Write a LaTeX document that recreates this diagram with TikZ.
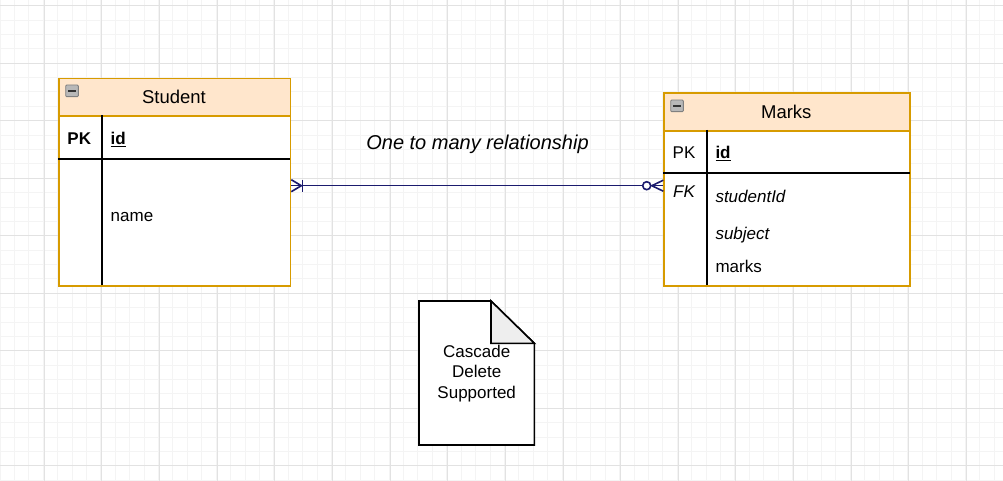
\documentclass[tikz,border=0pt]{standalone}
\usepackage{fontspec}
\setmainfont{Liberation Sans}
\usetikzlibrary{calc}
\definecolor{gridminor}{HTML}{F4F4F4}
\definecolor{gridmajor}{HTML}{E2E2E2}
\definecolor{hdrfill}{HTML}{FFE6CC}
\definecolor{hdrdraw}{HTML}{D79B00}
\definecolor{navy}{HTML}{1B1B6E}
\definecolor{foldfill}{HTML}{EEEEEE}
\begin{document}
\begin{tikzpicture}[x=1pt,y=-1pt,
  hdr/.style={draw=hdrdraw, fill=hdrfill, line width=1.6pt, rectangle, anchor=north west, inner sep=0pt,
     font=\fontsize{18.5}{20}\selectfont, text=black},
  tbody/.style={draw=hdrdraw, fill=white, line width=1.6pt, rectangle, anchor=north west, inner sep=0pt},
  rowtxt/.style={anchor=base west, inner sep=0pt, font=\fontsize{17}{20}\selectfont},
  keytxt/.style={anchor=base, inner sep=0pt, font=\fontsize{17}{20}\selectfont},
  sepline/.style={black, line width=1.8pt},
  rel/.style={navy, line width=1.6pt},
  iconbox/.style={draw=black!50, fill=black!28, rounded corners=1pt, line width=0.9pt}
]
\useasboundingbox (0,0) rectangle (1003,481);
\fill[white] (0,0) rectangle (1003,481);
% grid
\foreach \i in {0,...,69} \draw[gridminor, line width=1pt] ({0.07+14.41*\i},0) -- ++(0,481);
\foreach \j in {0,...,33} \draw[gridminor, line width=1pt] (0,{5.7+14.38*\j}) -- ++(1003,0);
\foreach \i in {0,...,16} \draw[gridmajor, line width=1pt] ({44.3+57.64*\i},0) -- ++(0,481);
\foreach \j in {0,...,8} \draw[gridmajor, line width=1pt] (0,{5.7+57.5*\j}) -- ++(1003,0);

% ---------- Student table ----------
\node[tbody, minimum width=231.4pt, minimum height=169.7pt] (stuB) at (58.3,115.3) {};
\node[hdr, minimum width=231.4pt, minimum height=37.6pt] (stuH) at (58.3,77.7) {};
\node[anchor=base, inner sep=0pt, font=\fontsize{18.5}{20}\selectfont] (stuT) at (174,103.7) {Student};
\draw[iconbox] (65.7,85) rectangle (78.3,96.7);
\draw[black!80, line width=1.8pt] (68.3,90.9) -- (75.7,90.9);
\draw[sepline] (102.3,115.3) -- (102.3,285);
\draw[sepline] (58.3,158.7) -- (289.7,158.7);
\node[keytxt, font=\fontsize{17}{20}\selectfont\bfseries] (stuPK) at (79.3,144.5) {PK};
\node[rowtxt, font=\fontsize{17}{20}\selectfont\bfseries] (stuId) at (110.5,144.5) {\underline{id}};
\node[rowtxt] (stuName) at (110.5,221) {name};

% ---------- Marks table ----------
\node[tbody, minimum width=246pt, minimum height=155pt] (mkB) at (663.3,130) {};
\node[hdr, minimum width=246pt, minimum height=37.7pt] (mkH) at (663.3,92.3) {};
\node[anchor=base, inner sep=0pt, font=\fontsize{18.5}{20}\selectfont] (mkT) at (786.3,118.7) {Marks};
\draw[iconbox] (670.7,100) rectangle (683.3,111.7);
\draw[black!80, line width=1.8pt] (673.3,105.9) -- (680.7,105.9);
\draw[sepline] (707.3,130) -- (707.3,285);
\draw[sepline] (663.3,173) -- (910,173);
\node[keytxt] (mkPK) at (684,158.3) {PK};
\node[rowtxt, font=\fontsize{17}{20}\selectfont\bfseries] (mkId) at (715.3,158.3) {\underline{id}};
\node[keytxt, font=\fontsize{17}{20}\selectfont\itshape] (mkFK) at (684,197.7) {FK};
\node[rowtxt, font=\fontsize{17}{20}\selectfont\itshape] (mkSid) at (715.3,202.7) {studentId};
\node[rowtxt, font=\fontsize{17}{20}\selectfont\itshape] (mkSub) at (715.3,239.3) {subject};
\node[rowtxt] (mkMarks) at (715.3,272.3) {marks};

% ---------- relationship ----------
\draw[rel] (stuB.north east) ++(0,70.4) coordinate (rs) -- (rs -| mkB.west) coordinate (re);
% one-or-many at Student end
\draw[rel] ($(rs)+(0,-6)$) -- ($(rs)+(10,0)$) -- ($(rs)+(0,6)$);
\draw[rel] ($(rs)+(11,-6)$) -- ($(rs)+(11,6)$);
% zero-or-many at Marks end
\draw[rel] ($(re)+(0,-5.5)$) -- ($(re)+(-11.5,0)$) -- ($(re)+(0,5.5)$);
\draw[rel, fill=white] ($(re)+(-16.6,0)$) circle (4pt);
\node[anchor=base, inner sep=0pt, font=\fontsize{20}{24}\selectfont\itshape] (relLbl) at (477.5,149.3) {One to many relationship};

% ---------- note ----------
\draw[black, line width=1.6pt, fill=white] (419,301) -- (491,301) -- (534.3,343.3) -- (534.3,445) -- (419,445) -- cycle;
\draw[black, line width=1.6pt, fill=foldfill] (491,301) -- (491,343.3) -- (534.3,343.3) -- cycle;
\node[anchor=center, inner sep=0pt, font=\fontsize{17}{20.3}\selectfont, align=center] (noteTxt) at (476.7,373.5) {Cascade\\Delete\\Supported};
\end{tikzpicture}
\end{document}
